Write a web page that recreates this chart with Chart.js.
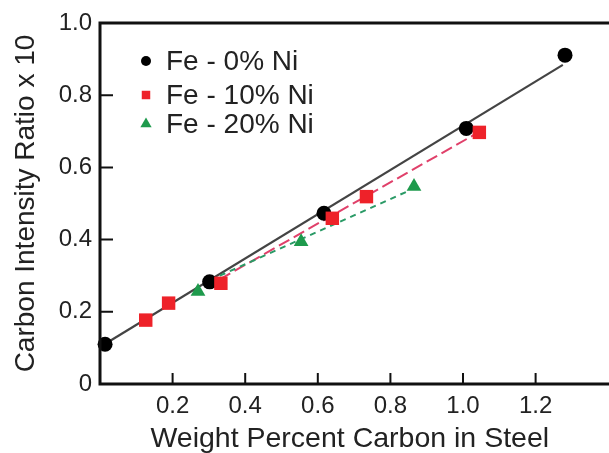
<!DOCTYPE html>
<html><head><meta charset="utf-8">
<style>html,body{margin:0;padding:0;background:#fff;}</style>
<script src="https://cdn.jsdelivr.net/npm/chart.js@4/dist/chart.umd.min.js"></script>
</head><body>
<canvas id="c" width="609" height="453"></canvas>
<script>
const seriesLabels = ['Fe - 0% Ni', 'Fe - 10% Ni', 'Fe - 20% Ni'];
const ni0X = [0.014, 0.302, 0.617, 1.009, 1.281];
const ni0Y = [0.110, 0.283, 0.473, 0.708, 0.911];
const ni10X = [0.126, 0.189, 0.333, 0.640, 0.734, 1.045];
const ni10Y = [0.177, 0.224, 0.279, 0.459, 0.519, 0.697];
const ni20X = [0.270, 0.554, 0.865];
const ni20Y = [0.256, 0.394, 0.547];
const fit0X = [0.0, 1.275];
const fit0Y = [0.1025, 0.884];
const fit10X = [0.33, 1.03];
const fit10Y = [0.29, 0.69];
const fit20X = [0.33, 0.85];
const fit20Y = [0.30, 0.535];
const xTicks = [0.2, 0.4, 0.6, 0.8, 1.0, 1.2];
const xTickLabels = ['0.2', '0.4', '0.6', '0.8', '1.0', '1.2'];
const yTicks = [0, 0.2, 0.4, 0.6, 0.8, 1.0];
const yTickLabels = ['0', '0.2', '0.4', '0.6', '0.8', '1.0'];
const xTitle = 'Weight Percent Carbon in Steel';
const yTitle = 'Carbon Intensity Ratio x 10';

const FONT = "'Liberation Sans', Arial, Helvetica, sans-serif";
const pts = (xs, ys) => xs.map((x, i) => ({x, y: ys[i]}));

const datasets = [
  {label: seriesLabels[0], data: pts(ni0X, ni0Y), pointStyle: 'circle', pointRadius: 7.5,
   backgroundColor: '#000', borderColor: '#000', borderWidth: 0, order: 2, legend: true, legendRadius: 5},
  {label: seriesLabels[1], data: pts(ni10X, ni10Y), pointStyle: 'rect', pointRadius: 9.5,
   backgroundColor: '#ee2229', borderColor: '#ee2229', borderWidth: 0, order: 1, legend: true, legendRadius: 6},
  {label: seriesLabels[2], data: pts(ni20X, ni20Y), pointStyle: 'triangle', pointRadius: 8.5,
   backgroundColor: '#1e9a4c', borderColor: '#1e9a4c', borderWidth: 0, order: 3, legend: true, legendRadius: 6.5},
  {label: 'fit 0', data: pts(fit0X, fit0Y), showLine: true, pointRadius: 0, borderColor: '#444', borderWidth: 2.2, order: 6},
  {label: 'fit 10', data: pts(fit10X, fit10Y), showLine: true, pointRadius: 0, borderColor: '#e0406a', borderWidth: 2, borderDash: [12, 5], order: 5},
  {label: 'fit 20', data: pts(fit20X, fit20Y), showLine: true, pointRadius: 0, borderColor: '#2a9a66', borderWidth: 2, borderDash: [6, 5], order: 4}
];

const framePlugin = {
  id: 'frame',
  afterDraw(chart) {
    const {ctx, chartArea: a, scales: {x, y}} = chart;
    ctx.save();
    ctx.strokeStyle = '#111';
    ctx.lineWidth = 3;
    ctx.beginPath();
    ctx.moveTo(chart.width + 2, a.top);
    ctx.lineTo(a.left, a.top);
    ctx.lineTo(a.left, a.bottom);
    ctx.lineTo(chart.width + 2, a.bottom);
    ctx.stroke();
    ctx.lineWidth = 2;
    ctx.beginPath();
    xTicks.forEach(v => { const px = x.getPixelForValue(v); ctx.moveTo(px, a.bottom); ctx.lineTo(px, a.bottom - 11); });
    yTicks.forEach(v => { if (v <= 0 || v >= 1) return; const py = y.getPixelForValue(v); ctx.moveTo(a.left, py); ctx.lineTo(a.left + 13, py); });
    ctx.stroke();
    // legend
    const rows = [38, 72, 101];
    let r = 0;
    chart.data.datasets.forEach(ds => {
      if (!ds.legend) return;
      const cy = a.top + rows[r++];
      const mx = a.left + 46;
      ctx.fillStyle = ds.backgroundColor;
      ctx.strokeStyle = ds.backgroundColor;
      Chart.helpers.drawPoint(ctx, {pointStyle: ds.pointStyle, radius: ds.legendRadius, borderWidth: 0}, mx, cy);
      ctx.fillStyle = '#222';
      ctx.font = '28px ' + FONT;
      ctx.textBaseline = 'middle';
      ctx.textAlign = 'left';
      ctx.fillText(ds.label, a.left + 66, cy + 1);
    });
    ctx.restore();
  }
};

new Chart(document.getElementById('c'), {
  type: 'scatter',
  data: {datasets},
  plugins: [framePlugin],
  options: {
    responsive: false,
    animation: false,
    clip: false,
    layout: {padding: {top: 23, right: 0, left: 0, bottom: 0}},
    plugins: {legend: {display: false}, tooltip: {enabled: false}},
    scales: {
      x: {
        type: 'linear', min: 0, max: 1.376,
        afterFit(s) { s.height = 69; },
        afterBuildTicks(s) { s.ticks = xTicks.map(v => ({value: v})); },
        ticks: {padding: 8, color: '#222', font: {family: FONT, size: 24}, maxRotation: 0, autoSkip: false,
                callback: (v, i) => xTickLabels[i]},
        grid: {display: false, drawTicks: false},
        border: {display: false},
        title: {display: true, text: xTitle, color: '#222', font: {family: FONT, size: 28.5, lineHeight: 1}, padding: {top: 0, bottom: 0}}
      },
      y: {
        type: 'linear', min: 0, max: 1.0,
        afterFit(s) { s.width = 100; },
        afterBuildTicks(s) { s.ticks = yTicks.map(v => ({value: v})); },
        ticks: {padding: 8, color: '#222', font: {family: FONT, size: 24}, autoSkip: false,
                callback: (v, i) => yTickLabels[i]},
        grid: {display: false, drawTicks: false},
        border: {display: false},
        title: {display: true, text: yTitle, color: '#222', font: {family: FONT, size: 28, lineHeight: 1}, padding: {top: 12, bottom: 0}}
      }
    }
  }
});
</script>
</body></html>
